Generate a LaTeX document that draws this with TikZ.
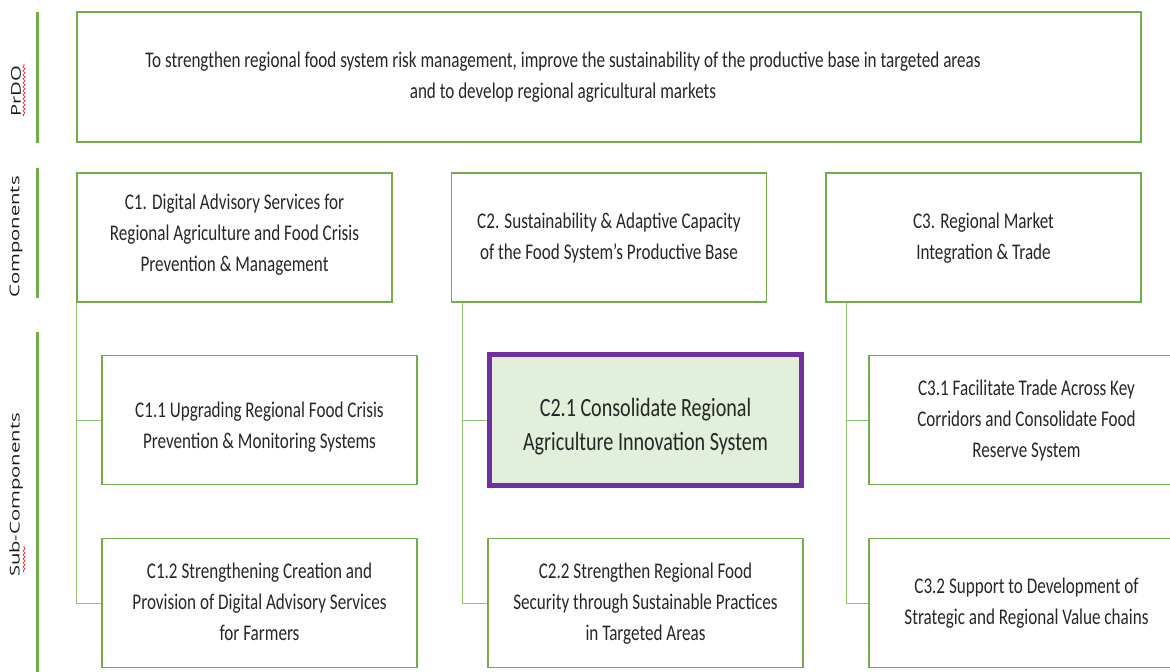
\documentclass[tikz,border=0pt]{standalone}
\usepackage{graphicx}
\usepackage{fontspec}
\setmainfont{Carlito}
\newfontfamily\sidefont{Open Sans}
\usetikzlibrary{decorations.pathmorphing}
\definecolor{boxgreen}{HTML}{70AD47}
\definecolor{linkgreen}{HTML}{8CC66A}
\definecolor{keypurple}{HTML}{7030A0}
\definecolor{keyfill}{HTML}{E2EFDA}
\definecolor{inkgray}{HTML}{262626}
\newcommand{\stretchtext}[2][0pt]{\raisebox{#1}[\height][\depth]{\scalebox{1}[1.31]{\begin{tabular}{@{}c@{}}#2\end{tabular}}}}
\newcommand{\sidestretch}[1]{\scalebox{1.5}[1]{#1}}
\begin{document}
\begin{tikzpicture}[x=1pt,y=-1pt,
  box/.style={draw=boxgreen,line width=1.4pt,minimum width=315pt,minimum height=129pt,
    inner sep=0pt,text=inkgray,font=\fontsize{17.1}{23.6}\selectfont},
  keybox/.style={box,draw=keypurple,line width=5pt,fill=keyfill,minimum width=312pt,
    minimum height=131pt,font=\fontsize{20.1}{26}\selectfont},
  rowbar/.style={draw=boxgreen,line width=3pt},
  rowlabel/.style={rotate=90,text=black!90,font=\sidefont\fontsize{13.5}{16}\selectfont},
  link/.style={draw=linkgreen,line width=1pt},
  typo/.style={draw=red,line width=0.6pt,decorate,decoration={snake,amplitude=1pt,segment length=4pt}}]
\path[use as bounding box] (0,0) rectangle (1170,672);
\clip (0,0) rectangle (1170,672);

\draw[rowbar] (37,12) -- (37,143);
\draw[rowbar] (37,168) -- (37,298);
\draw[rowbar] (37,332) -- (37,672);
\node[rowlabel] (prdo) at (16,91) {\sidestretch{PrDO}};
\node[rowlabel] (comp) at (16,237) {\sidestretch{Components}};
\node[rowlabel] (subcomp) at (16,495) {\sidestretch{Sub-Components}};
\draw[typo] (24,116) -- (24,64);
\draw[typo] (24,572) -- (24,546);

\node[box,minimum width=1064pt,minimum height=130pt] (goalbox) at (609,77) {};
\node[text=inkgray,font=\fontsize{17.1}{23.6}\selectfont] (goal) at (563,77)
  {\stretchtext{To strengthen regional food system risk management, improve the sustainability of the productive base in targeted areas\\and to develop regional agricultural markets}};

\node[box] (c1) at (234.5,237.5) {\stretchtext[3pt]{C1. Digital Advisory Services for\\Regional Agriculture and Food Crisis\\Prevention \& Management}};
\node[box] (c2) at (609,237.5) {\stretchtext{C2. Sustainability \& Adaptive Capacity\\of the Food System’s Productive Base}};
\node[box] (c3) at (983.5,237.5) {\stretchtext{C3. Regional Market\\Integration \& Trade}};

\node[box] (c11) at (259.5,420) {\stretchtext[-7pt]{C1.1 Upgrading Regional Food Crisis\\Prevention \& Monitoring Systems}};
\node[box] (c12) at (259.5,603) {\stretchtext{C1.2 Strengthening Creation and\\Provision of Digital Advisory Services\\for Farmers}};
\node[keybox] (c21) at (645.5,420) {\stretchtext[-7pt]{C2.1 Consolidate Regional\\Agriculture Innovation System}};
\node[box] (c22) at (645.5,603) {\stretchtext{C2.2 Strengthen Regional Food\\Security through Sustainable Practices\\in Targeted Areas}};
\node[box] (c31) at (1026.5,420) {\stretchtext{C3.1 Facilitate Trade Across Key\\Corridors and Consolidate Food\\Reserve System}};
\node[box] (c32) at (1026.5,603) {\stretchtext{C3.2 Support to Development of\\Strategic and Regional Value chains}};

\draw[link] (c1.south west) |- (c11.west);
\draw[link] (c1.south west) |- (c12.west);
\draw[link] ([xshift=12pt]c2.south west) |- (c21.west);
\draw[link] ([xshift=12pt]c2.south west) |- (c22.west);
\draw[link] ([xshift=21pt]c3.south west) |- (c31.west);
\draw[link] ([xshift=21pt]c3.south west) |- (c32.west);
\end{tikzpicture}
\end{document}
